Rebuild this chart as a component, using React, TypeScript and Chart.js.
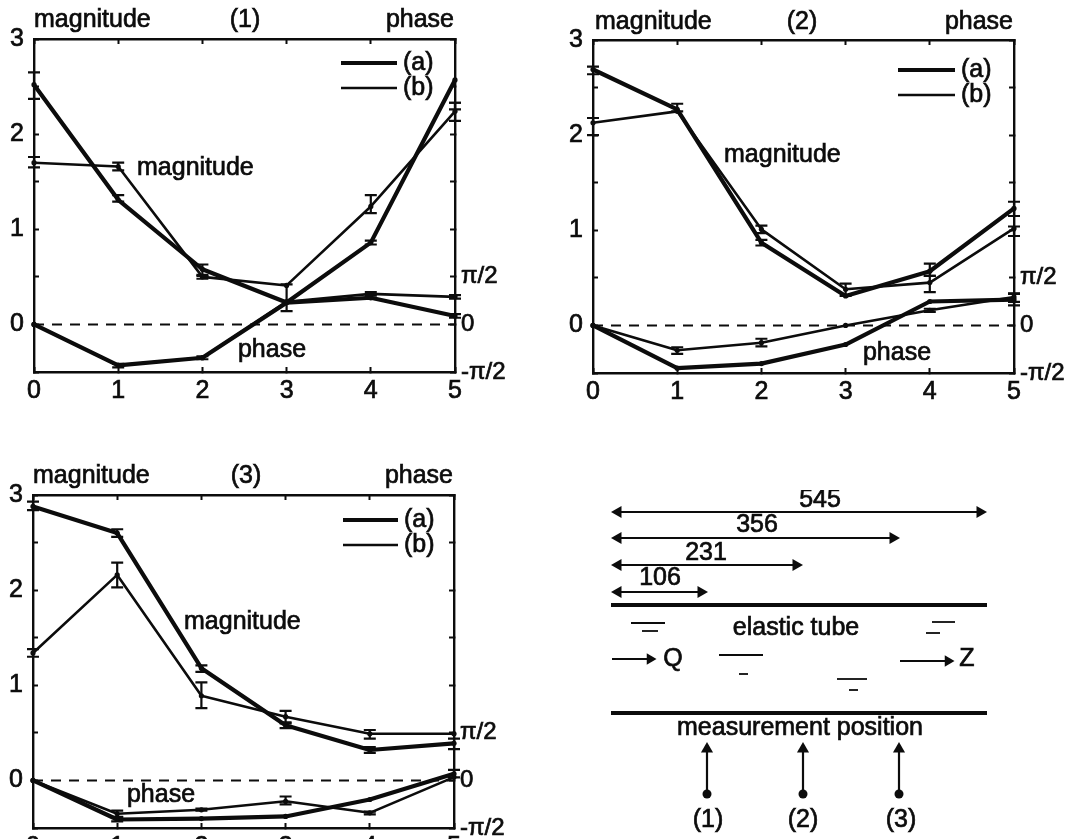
import React, { useEffect, useRef } from "react";
import { Chart, registerables } from "chart.js";

Chart.register(...registerables);

const FONT = '"Liberation Sans", Arial, sans-serif';
const INK = "#0c0c0c";
const PI = Math.PI;

const positions = [0, 1, 2, 3, 4, 5];
const magnitudeTicks = [-0.5, 0, 0.5, 1, 1.5, 2, 2.5, 3];
const phaseTicks = [-PI / 2, 0, PI / 2, PI, (3 * PI) / 2, 2 * PI, (5 * PI) / 2, 3 * PI];
const zeroLine = [0, 0, 0, 0, 0, 0];

// Panel (1)
const p1MagA = [2.52, 1.31, 0.58, 0.23, 0.86, 2.57];
const p1MagB = [1.7, 1.66, 0.5, 0.41, 1.24, 2.24];
const p1PhaseA = [0, -1.35, -1.1, 0.72, 0.88, 0.28];
const p1PhaseB = [0, -1.35, -1.1, 0.75, 1.01, 0.91];
const p1MagErr = [[0, 2.37, 2.65], [0, 1.65, 1.76], [1, 1.62, 1.7], [1, 1.29, 1.36], [2, 0.51, 0.63], [2, 0.48, 0.52], [3, 0.14, 0.42], [4, 1.17, 1.36], [4, 0.84, 0.88], [5, 2.14, 2.33], [5, 2.26, 2.33]];
const p1PhaseErr = [[1, -1.42, -1.3], [2, -1.15, -1.05], [4, 0.95, 1.07], [5, 0.85, 0.97], [5, 0.22, 0.34]];

// Panel (2)
const p2MagA = [2.69, 2.27, 0.87, 0.31, 0.57, 1.23];
const p2MagB = [2.13, 2.25, 1.01, 0.38, 0.45, 1.02];
const p2PhaseA = [0, -1.41, -1.26, -0.63, 0.79, 0.85];
const p2PhaseB = [0, -0.82, -0.57, 0, 0.5, 0.94];
const p2MagErr = [[0, 2.64, 2.72], [0, 2.0, 2.18], [1, 2.25, 2.33], [2, 0.97, 1.05], [2, 0.84, 0.9], [3, 0.31, 0.44], [4, 0.52, 0.65], [4, 0.35, 0.52], [5, 1.15, 1.3], [5, 0.94, 1.04]];
const p2PhaseErr = [[1, -0.94, -0.72], [2, -0.69, -0.44], [4, 0.45, 0.55], [5, 0.66, 1.04], [5, 0.78, 1.06]];

// Panel (3)
const p3MagA = [2.88, 2.6, 1.18, 0.58, 0.32, 0.39];
const p3MagB = [1.34, 2.16, 0.89, 0.67, 0.49, 0.49];
const p3PhaseA = [0, -1.29, -1.26, -1.19, -0.63, 0.22];
const p3PhaseB = [0, -1.1, -0.97, -0.69, -1.07, 0.11];
const p3MagErr = [[0, 2.84, 2.93], [0, 1.3, 1.38], [1, 2.56, 2.64], [1, 2.03, 2.29], [2, 0.76, 1.03], [2, 1.14, 1.21], [3, 0.6, 0.73], [3, 0.55, 0.61], [4, 0.44, 0.53], [4, 0.29, 0.35], [5, 0.33, 0.44]];
const p3PhaseErr = [[1, -1.35, -1.22], [1, -1.2, -1.0], [2, -1.0, -0.93], [3, -0.79, -0.53], [4, -1.12, -1.03], [5, 0.1, 0.35]];

// Diagram of the elastic tube
const spanLabels = ["545", "356", "231", "106"];
const spanEnds = [390, 303, 206, 111];
const spanLevels = [22, 48, 75, 102];
const spanStart = 28;
const wallLevels = [115, 223];
const wallExtent = [21, 397];
const surfaceMarks = [
  [41, 75, 133], [52, 68, 141],
  [129, 173, 165], [149, 158, 184],
  [247, 277, 189], [259, 268, 200],
  [342, 365, 132], [336, 350, 143],
];
const flowArrows = [[22, 60, 169], [310, 358, 171]];
const probeX = [117, 213, 309];
const probeFrom = 304;
const probeTo = 259;

function pts(xs, ys) {
  return xs.map((x, i) => ({ x, y: ys[i] }));
}

function textPlugin(items) {
  return {
    id: "texts",
    afterDraw(chart) {
      const c = chart.ctx;
      c.save();
      c.fillStyle = INK;
      c.strokeStyle = INK;
      c.lineWidth = 0.7;
      c.font = `25px ${FONT}`;
      c.textBaseline = "middle";
      for (const t of items) {
        c.textAlign = t.a || "center";
        c.fillText(t.s, t.x, t.y);
        c.strokeText(t.s, t.x, t.y);
      }
      c.restore();
    },
  };
}

function errorPlugin(magErr, phaseErr) {
  return {
    id: "errorBars",
    afterDatasetsDraw(chart) {
      const c = chart.ctx;
      const sx = chart.scales.x;
      c.save();
      c.strokeStyle = INK;
      c.lineWidth = 2.2;
      const draw = (list, sy) => {
        for (const [x, lo, hi] of list) {
          const px = sx.getPixelForValue(x);
          const a = sy.getPixelForValue(lo);
          const b = sy.getPixelForValue(hi);
          c.beginPath();
          c.moveTo(px, a);
          c.lineTo(px, b);
          c.moveTo(px - 6, a);
          c.lineTo(px + 6, a);
          c.moveTo(px - 6, b);
          c.lineTo(px + 6, b);
          c.stroke();
        }
      };
      draw(magErr, chart.scales.y);
      draw(phaseErr, chart.scales.y1);
      c.restore();
    },
  };
}

function legendPlugin(x0, x1, y0, y1) {
  return {
    id: "keyLines",
    afterDraw(chart) {
      const c = chart.ctx;
      c.save();
      c.strokeStyle = INK;
      c.lineWidth = 4.2;
      c.beginPath();
      c.moveTo(x0, y0);
      c.lineTo(x1, y0);
      c.stroke();
      c.lineWidth = 2.6;
      c.beginPath();
      c.moveTo(x0, y1);
      c.lineTo(x1, y1);
      c.stroke();
      c.restore();
    },
  };
}

const tickGrid = { drawOnChartArea: false, drawTicks: true, tickLength: -5, tickWidth: 2, tickColor: INK };
const frame = { display: true, width: 2.4, color: INK };
const tickFont = { family: FONT, size: 25 };
const tickInk = { color: INK, font: tickFont, textStrokeColor: INK, textStrokeWidth: 0.7 };

function Panel({ box, plot, magA, magB, phaseA, phaseB, magErr, phaseErr, title, mag, phase, head, key0 }) {
  const ref = useRef(null);
  useEffect(() => {
    const line = (data, yAxisID, w, r) => ({
      data,
      yAxisID,
      xAxisID: "x",
      borderColor: INK,
      backgroundColor: INK,
      borderWidth: w,
      pointRadius: r,
      pointBorderWidth: 0,
      tension: 0,
      clip: false,
      borderJoinStyle: "round",
    });
    const L = plot.l - box.x;
    const R = plot.r - box.x;
    const T = plot.t - box.y;
    const B = plot.b - box.y;
    const texts = [
      { s: "magnitude", x: head.magX - box.x, y: head.y - box.y, a: "left" },
      { s: title, x: head.titleX - box.x, y: head.y - box.y },
      { s: "phase", x: head.phaseX - box.x, y: head.y - box.y, a: "right" },
      { s: "magnitude", x: mag[0] - box.x, y: mag[1] - box.y, a: "left" },
      { s: "phase", x: phase[0] - box.x, y: phase[1] - box.y },
      { s: "(a)", x: key0.x1 + 6 - box.x, y: key0.y0 - box.y, a: "left" },
      { s: "(b)", x: key0.x1 + 6 - box.x, y: key0.y1 - box.y, a: "left" },
    ];
    const chart = new Chart(ref.current, {
      type: "line",
      data: {
        labels: positions,
        datasets: [
          { ...line(zeroLine, "y1", 2, 0), borderDash: [10, 8] },
          line(magB, "y", 2.6, 2.6),
          line(phaseB, "y1", 2.6, 2.6),
          line(magA, "y", 4.2, 2.6),
          line(phaseA, "y1", 4.2, 2.6),
        ].map((d) => ({ ...d, data: pts(positions, d.data) })),
      },
      options: {
        animation: false,
        responsive: false,
        parsing: { xAxisKey: "x", yAxisKey: "y" },
        layout: { autoPadding: false, padding: { top: T, left: 0, right: 0, bottom: 0 } },
        plugins: { legend: { display: false }, tooltip: { enabled: false } },
        scales: {
          x: {
            type: "linear",
            position: "bottom",
            min: 0,
            max: 5,
            afterFit: (s) => { s.height = box.h - B; },
            afterBuildTicks: (s) => { s.ticks = positions.map((v) => ({ value: v })); },
            grid: tickGrid,
            border: frame,
            ticks: { ...tickInk, padding: 9, maxRotation: 0, autoSkip: false },
          },
          x2: {
            type: "linear",
            position: "top",
            min: 0,
            max: 5,
            afterFit: (s) => { s.height = 0; },
            afterBuildTicks: (s) => { s.ticks = positions.map((v) => ({ value: v })); },
            grid: tickGrid,
            border: frame,
            ticks: { display: false },
          },
          y: {
            type: "linear",
            position: "left",
            min: -0.5,
            max: 3,
            afterFit: (s) => { s.width = L; },
            afterBuildTicks: (s) => { s.ticks = magnitudeTicks.map((v) => ({ value: v })); },
            grid: tickGrid,
            border: frame,
            ticks: {
              ...tickInk,
              padding: 15,
              autoSkip: false,
              callback: (v) => (Number.isInteger(v) ? String(v) : ""),
            },
          },
          y1: {
            type: "linear",
            position: "right",
            min: -PI / 2,
            max: 3 * PI,
            afterFit: (s) => { s.width = box.w - R; },
            afterBuildTicks: (s) => { s.ticks = phaseTicks.map((v) => ({ value: v })); },
            grid: tickGrid,
            border: frame,
            ticks: {
              ...tickInk,
              font: { family: FONT, size: 24 },
              padding: 11,
              autoSkip: false,
              callback: (v) =>
                Math.abs(v) < 1e-6 ? "0" : Math.abs(v - PI / 2) < 1e-6 ? "π/2" : Math.abs(v + PI / 2) < 1e-6 ? "-π/2" : "",
            },
          },
        },
      },
      plugins: [
        errorPlugin(magErr, phaseErr),
        legendPlugin(key0.x0 - box.x, key0.x1 - box.x, key0.y0 - box.y, key0.y1 - box.y),
        textPlugin(texts),
      ],
    });
    return () => chart.destroy();
  }, []);
  return (
    <canvas
      ref={ref}
      width={box.w}
      height={box.h}
      style={{ position: "absolute", left: box.x, top: box.y, width: box.w, height: box.h }}
    />
  );
}

function Diagram() {
  const ref = useRef(null);
  useEffect(() => {
    const base = { borderColor: INK, backgroundColor: INK, showLine: true, tension: 0, clip: false };
    const datasets = [];
    spanEnds.forEach((end, i) => {
      datasets.push({
        ...base,
        borderWidth: 2.2,
        data: pts([spanStart, end], [spanLevels[i], spanLevels[i]]),
        pointStyle: "triangle",
        pointRadius: 7,
        pointBorderWidth: 0,
        rotation: [-90, 90],
      });
    });
    wallLevels.forEach((y) => {
      datasets.push({ ...base, borderWidth: 4.2, pointRadius: 0, data: pts(wallExtent, [y, y]) });
    });
    surfaceMarks.forEach(([a, b, y]) => {
      datasets.push({ ...base, borderWidth: 1.8, pointRadius: 0, data: pts([a, b], [y, y]) });
    });
    flowArrows.forEach(([a, b, y]) => {
      datasets.push({
        ...base,
        borderWidth: 2.2,
        data: pts([a, b], [y, y]),
        pointStyle: "triangle",
        pointRadius: [0, 6.5],
        pointBorderWidth: 0,
        rotation: [0, 90],
      });
    });
    probeX.forEach((x) => {
      datasets.push({
        ...base,
        borderWidth: 2.2,
        data: pts([x, x], [probeFrom, probeTo]),
        pointStyle: ["circle", "triangle"],
        pointRadius: [4.5, 7],
        pointBorderWidth: 0,
      });
    });
    const texts = [
      { s: spanLabels[0], x: 230, y: 10 },
      { s: spanLabels[1], x: 167, y: 35 },
      { s: spanLabels[2], x: 116, y: 63 },
      { s: spanLabels[3], x: 70, y: 88 },
      { s: "elastic tube", x: 206, y: 138 },
      { s: "Q", x: 83, y: 169 },
      { s: "Z", x: 377, y: 169 },
      { s: "measurement position", x: 210, y: 238 },
      { s: "(1)", x: 118, y: 330 },
      { s: "(2)", x: 213, y: 330 },
      { s: "(3)", x: 311, y: 330 },
    ];
    const chart = new Chart(ref.current, {
      type: "scatter",
      data: { datasets },
      options: {
        animation: false,
        responsive: false,
        layout: { autoPadding: false, padding: 0 },
        plugins: { legend: { display: false }, tooltip: { enabled: false } },
        scales: {
          x: { type: "linear", display: false, min: 0, max: 475 },
          y: { type: "linear", display: false, min: 0, max: 349, reverse: true },
        },
      },
      plugins: [textPlugin(texts)],
    });
    return () => chart.destroy();
  }, []);
  return (
    <canvas
      ref={ref}
      width={475}
      height={349}
      style={{ position: "absolute", left: 590, top: 490, width: 475, height: 349 }}
    />
  );
}

export default function App() {
  return (
    <div style={{ position: "absolute", left: 0, top: 0, width: 1065, height: 839, overflow: "hidden", background: "#fff" }}>
      <Panel
        box={{ x: 0, y: 0, w: 530, h: 410 }}
        plot={{ l: 34, r: 455, t: 39, b: 372 }}
        magA={p1MagA} magB={p1MagB} phaseA={p1PhaseA} phaseB={p1PhaseB}
        magErr={p1MagErr} phaseErr={p1PhaseErr}
        title="(1)"
        head={{ magX: 34, titleX: 245, phaseX: 454, y: 20 }}
        mag={[137, 168]} phase={[272, 350]}
        key0={{ x0: 341, x1: 397, y0: 63, y1: 88 }}
      />
      <Panel
        box={{ x: 540, y: 0, w: 525, h: 410 }}
        plot={{ l: 593, r: 1014, t: 40, b: 373 }}
        magA={p2MagA} magB={p2MagB} phaseA={p2PhaseA} phaseB={p2PhaseB}
        magErr={p2MagErr} phaseErr={p2PhaseErr}
        title="(2)"
        head={{ magX: 595, titleX: 802, phaseX: 1013, y: 22 }}
        mag={[724, 155]} phase={[897, 353]}
        key0={{ x0: 898, x1: 955, y0: 70, y1: 95 }}
      />
      <Panel
        box={{ x: 0, y: 430, w: 530, h: 430 }}
        plot={{ l: 33, r: 454, t: 495, b: 828 }}
        magA={p3MagA} magB={p3MagB} phaseA={p3PhaseA} phaseB={p3PhaseB}
        magErr={p3MagErr} phaseErr={p3PhaseErr}
        title="(3)"
        head={{ magX: 33, titleX: 246, phaseX: 453, y: 476 }}
        mag={[184, 622]} phase={[161, 795]}
        key0={{ x0: 343, x1: 398, y0: 520, y1: 545 }}
      />
      <Diagram />
    </div>
  );
}
